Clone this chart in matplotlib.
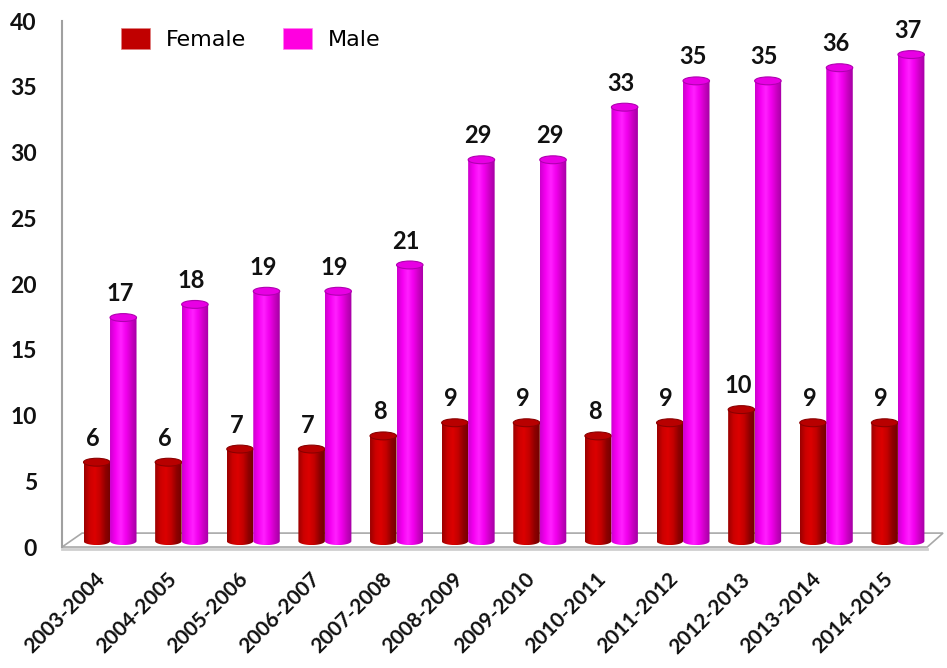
import numpy as np
import matplotlib
matplotlib.use('Agg')
import matplotlib.pyplot as plt
from matplotlib.colors import LinearSegmentedColormap
from matplotlib.patches import Polygon, Ellipse, Patch
from matplotlib.transforms import ScaledTranslation

# data
years = ['2003-2004', '2004-2005', '2005-2006', '2006-2007', '2007-2008', '2008-2009',
         '2009-2010', '2010-2011', '2011-2012', '2012-2013', '2013-2014', '2014-2015']
female = [6, 6, 7, 7, 8, 9, 9, 8, 9, 10, 9, 9]
male = [17, 18, 19, 19, 21, 29, 29, 33, 35, 35, 36, 37]

plt.rcParams['font.family'] = ['Lato', 'DejaVu Sans']

fig = plt.figure(figsize=(9.47, 6.68), dpi=100)
ax = fig.add_axes([0.0655, 0.1811, 0.9303, 0.7874])

x = np.arange(len(years))
bw = 0.37      # bar width
depth = 0.45   # fake 3d lift of the bars above the front floor edge
cap = 0.6      # height of the elliptical caps

female_cmap = LinearSegmentedColormap.from_list(
    'fem', ['#9a0000', '#cc0000', '#dc0000', '#c40000', '#900000', '#720000'])
male_cmap = LinearSegmentedColormap.from_list(
    'mal', ['#cc00cc', '#f600f2', '#ff20ff', '#f200ee', '#cc00c4', '#a400a4'])
grad = np.linspace(0, 1, 64).reshape(1, -1)


#draws one cylinder: shaded body + top ellipse
def cylinder(xc, val, cmap, capcolor, rimcolor, z):
    x0, x1 = xc - bw / 2, xc + bw / 2
    top = val + depth
    t = np.linspace(0, np.pi, 30)
    arc = np.column_stack([xc + bw / 2 * np.cos(t), depth - cap / 2 * np.sin(t)])
    pts = np.vstack([[x0, top], [x1, top], [x1, depth], arc, [x0, depth]])
    body = Polygon(pts, closed=True, facecolor='none', edgecolor='none')
    ax.add_patch(body)
    im = ax.imshow(grad, cmap=cmap, extent=[x0, x1, depth - cap / 2, top],
                   aspect='auto', interpolation='bilinear', zorder=z)
    im.set_clip_path(body)
    ax.add_patch(Ellipse((xc, top), bw, cap, facecolor=capcolor,
                         edgecolor=rimcolor, lw=0.8, zorder=z + 0.1))


for i in range(len(years)):
    cylinder(x[i] - bw / 2, female[i], female_cmap, '#b80000', '#8a0000', 3)
    cylinder(x[i] + bw / 2, male[i], male_cmap, '#e800e4', '#b000b0', 4)
    ax.text(x[i] - bw / 2 - 0.05, female[i] + depth + 1.25, str(female[i]),
            ha='center', va='baseline', fontsize=17, fontweight='bold', color='#111111')
    ax.text(x[i] + bw / 2 - 0.05, male[i] + depth + 1.25, str(male[i]),
            ha='center', va='baseline', fontsize=17, fontweight='bold', color='#111111')

# floor
xmin, xmax = -0.67, 11.63
floor = Polygon([(xmin, 0), (11.41, 0), (xmax, 1.06), (-0.39, 1.06)], closed=True,
                facecolor='white', edgecolor='#a8a8a8', lw=1.2, clip_on=False, zorder=1)
ax.add_patch(floor)
ax.plot([xmin, 11.41], [-0.12, -0.12], color='#cfcfcf', lw=2, clip_on=False, zorder=0.5)

ax.set_xlim(xmin, xmax)
ax.set_ylim(0, 40)
ax.set_yticks(range(0, 45, 5))
ax.set_xticks(x)
ax.set_xticklabels(years, rotation=45, ha='right', va='center', rotation_mode='anchor',
                   fontsize=15, fontweight='bold', color='#111111')
for lbl in ax.get_yticklabels():
    lbl.set_fontsize(16.5)
    lbl.set_fontweight('bold')
    lbl.set_color('#111111')
ax.tick_params(axis='x', length=0, pad=21)
ax.tick_params(axis='y', length=0, pad=18)
shift = ScaledTranslation(-8 / 100, 0, fig.dpi_scale_trans)
for lbl in ax.get_xticklabels():
    lbl.set_transform(lbl.get_transform() + shift)

for s in ['top', 'right', 'bottom']:
    ax.spines[s].set_visible(False)
ax.spines['left'].set_color('#a0a0a0')
ax.spines['left'].set_linewidth(1.5)

handles = [Patch(facecolor='#c00000', edgecolor='#e08080', lw=0.5),
           Patch(facecolor='#ff00e0', edgecolor='#ff80f0', lw=0.5)]
fig.legend(handles, ['Female', 'Male'], loc='upper left',
           bbox_to_anchor=(121 / 947, 1 - 28 / 668), ncol=2, frameon=False,
           prop={'family': 'DejaVu Sans', 'size': 16}, handlelength=1.3, handleheight=1.1,
           handletextpad=0.7, columnspacing=1.7, borderpad=0, borderaxespad=0)

fig.savefig('out.png', dpi=100)
